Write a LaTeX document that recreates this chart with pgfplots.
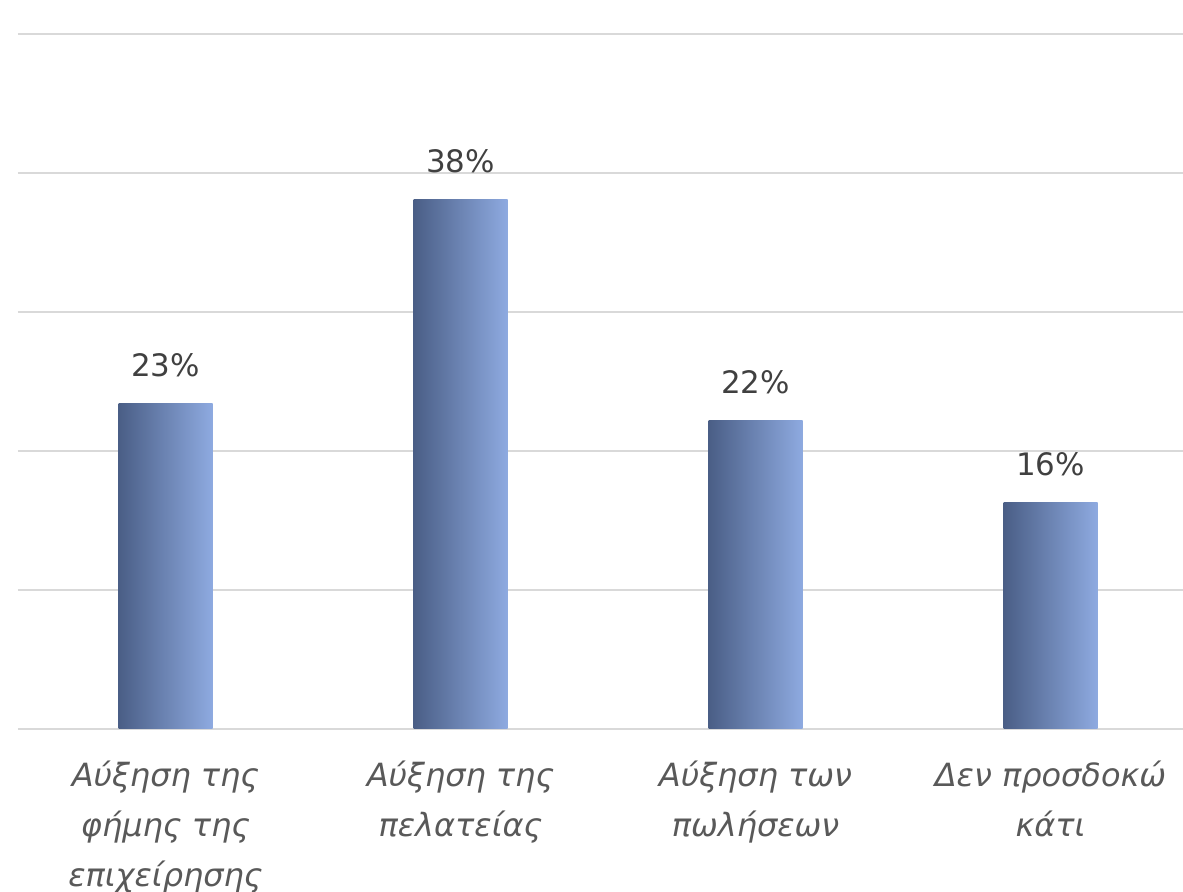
\documentclass[border=0pt]{standalone}
\usepackage{fontspec}
\setmainfont{DejaVu Sans}
\usepackage{pgfplots}
\pgfplotsset{compat=1.18}
\definecolor{barL}{HTML}{4A5E86}
\definecolor{barR}{HTML}{8EAAE0}
\definecolor{gridc}{HTML}{D9D9D9}
\definecolor{numc}{HTML}{404040}
\definecolor{labc}{HTML}{595959}
\begin{document}
\begin{tikzpicture}[x=1cm,y=1cm]
\useasboundingbox (-0.18,-1.63) rectangle (11.65,7.29);
\begin{axis}[
  at={(0,0)}, anchor=south west,
  scale only axis,
  width=11.65cm, height=6.95cm,
  xmin=-0.5, xmax=3.449,
  ymin=0, ymax=50,
  ytick={0,10,20,30,40,50},
  yticklabels={},
  ymajorgrids,
  grid style={gridc, line width=0.6pt},
  axis line style={draw=none},
  major tick length=0pt,
  xtick={0,1,2,3},
  xticklabels={{Αύξηση της\\φήμης της\\επιχείρησης},{Αύξηση της\\πελατείας},{Αύξηση των\\πωλήσεων},{Δεν προσδοκώ\\κάτι}},
  xticklabel style={align=center, font=\fontsize{9.1}{14.2}\selectfont\itshape, text=labc, yshift=-5.5pt},
  ybar, bar width=0.94cm, bar shift=0pt,
  clip=false,
  point meta=explicit symbolic,
  nodes near coords,
  every node near coord/.append style={font=\fontsize{8.8}{11}\selectfont, text=numc, yshift=4pt},
  barstyle/.style={draw=none, left color=barL, right color=barR},
]
\addplot[barstyle] coordinates {(0,23.4) [23\%]};
\addplot[barstyle] coordinates {(1,38.1) [38\%]};
\addplot[barstyle] coordinates {(2,22.2) [22\%]};
\addplot[barstyle] coordinates {(3,16.3) [16\%]};
\end{axis}
\end{tikzpicture}
\end{document}
